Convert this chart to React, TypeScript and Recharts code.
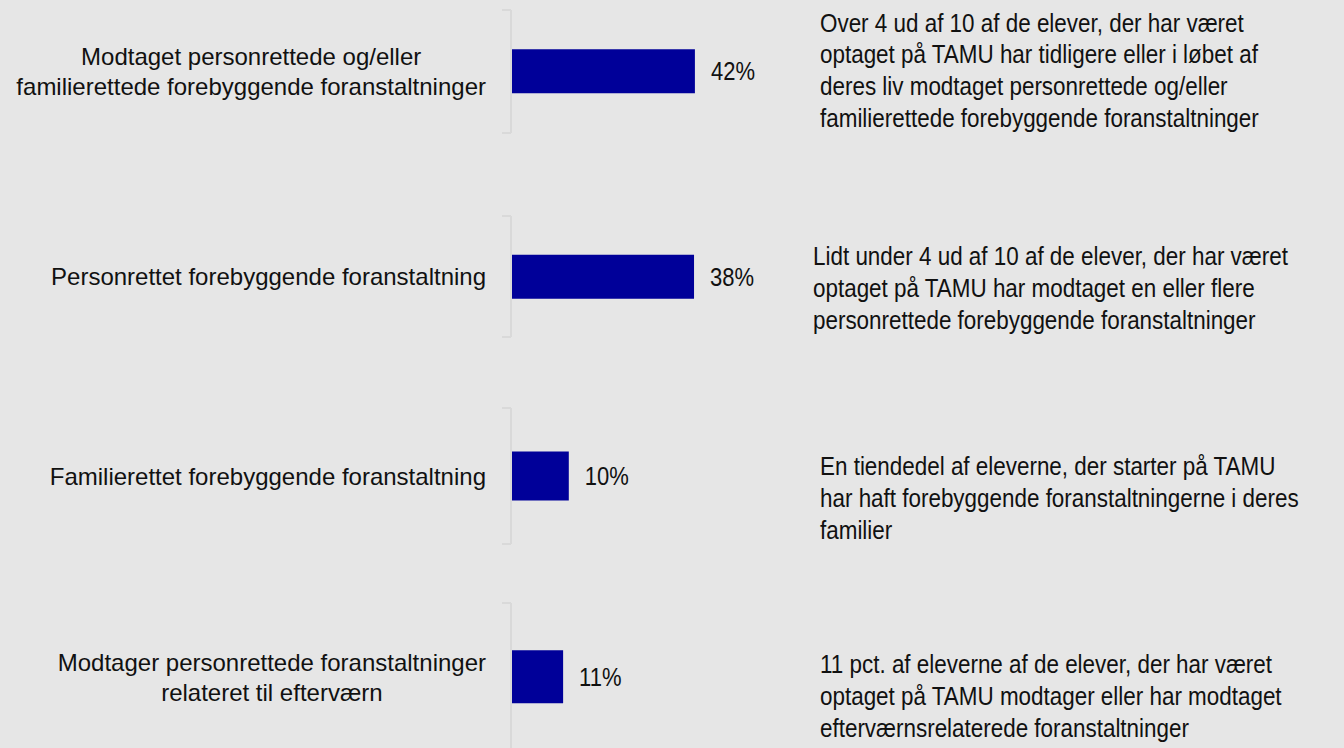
import { Bar, BarChart, LabelList, XAxis, YAxis } from "recharts";

const categories = [
  "Modtaget personrettede og/eller\nfamilierettede forebyggende foranstaltninger",
  "Personrettet forebyggende foranstaltning",
  "Familierettet forebyggende foranstaltning",
  "Modtager personrettede foranstaltninger\nrelateret til efterværn",
];
const shares = [42, 38, 10, 11];
// the original draws every panel with its own x scale
const scaleMax = [66, 60, 50, 61];
const notes = [
  "Over 4 ud af 10 af de elever, der har været\noptaget på TAMU har tidligere eller i løbet af\nderes liv modtaget personrettede og/eller\nfamilierettede forebyggende foranstaltninger",
  "Lidt under 4 ud af 10 af de elever, der har været\noptaget på TAMU har modtaget en eller flere\npersonrettede forebyggende foranstaltninger",
  "En tiendedel af eleverne, der starter på TAMU\nhar haft forebyggende foranstaltningerne i deres\nfamilier",
  "11 pct. af eleverne af de elever, der har været\noptaget på TAMU modtager eller har modtaget\nefterværnsrelaterede foranstaltninger",
];

const BG = "#e6e6e6";
const BAR = "#000099";
const AXIS = "#d9d9d9";
const INK = "#111111";
const FONT = "'Liberation Sans', Arial, sans-serif";
// the source font is a narrow grotesque, so text is squeezed a little
const SQUEEZE = 0.88;

const AXIS_X = 511;
const LABEL_RIGHT = 486;
const CHART_W = 800;
const PANELS = [
  { top: 10, h: 123 },
  { top: 216, h: 121 },
  { top: 408, h: 136 },
  { top: 603, h: 148 },
];
const NOTE_POS = [
  { x: 820, y: 31.5 },
  { x: 813, y: 265 },
  { x: 820, y: 475 },
  { x: 820, y: 673 },
];

let ctx: CanvasRenderingContext2D | null = null;
function textWidth(s: string, font: string) {
  if (!ctx) ctx = document.createElement("canvas").getContext("2d");
  if (!ctx) return s.length * 11;
  ctx.font = font;
  return ctx.measureText(s).width;
}

function CategoryTick({ y, payload, half }: any) {
  const lines = String(payload.value).split("\n");
  const maxW = Math.max(...lines.map((l) => textWidth(l, `24px ${FONT}`)));
  const cx = LABEL_RIGHT - maxW / 2;
  return (
    <g>
      <line x1={AXIS_X - 9} x2={AXIS_X} y1={y - half} y2={y - half} stroke={AXIS} strokeWidth={2} />
      <line x1={AXIS_X - 9} x2={AXIS_X} y1={y + half} y2={y + half} stroke={AXIS} strokeWidth={2} />
      <text textAnchor="middle" fontSize={24} fill={INK} fontFamily={FONT}>
        {lines.map((l, i) => (
          <tspan key={i} x={cx} y={y + (i - (lines.length - 1) / 2) * 30} dy="0.36em">
            {l}
          </tspan>
        ))}
      </text>
    </g>
  );
}

function ValueLabel({ x, y, width, height, value }: any) {
  const tx = Number(x) + Number(width) + 16;
  const ty = Number(y) + Number(height) / 2;
  return (
    <text
      transform={`translate(${tx},${ty}) scale(${SQUEEZE},1)`}
      dy="0.36em"
      fontSize={25}
      fill={INK}
      fontFamily={FONT}
    >
      {value}%
    </text>
  );
}

export default function App() {
  return (
    <div
      style={{
        position: "absolute",
        left: 0,
        top: 0,
        width: 1344,
        height: 748,
        background: BG,
        overflow: "hidden",
      }}
    >
      {PANELS.map((p, i) => (
        <div key={i} style={{ position: "absolute", left: 0, top: p.top - 2 }}>
          <BarChart
            width={CHART_W}
            height={p.h + 4}
            layout="vertical"
            data={[{ name: categories[i], value: shares[i] }]}
            margin={{ top: 2, right: 0, bottom: 2, left: 0 }}
            barCategoryGap="32%"
          >
            <XAxis type="number" domain={[0, scaleMax[i]]} hide />
            <YAxis
              type="category"
              dataKey="name"
              width={AXIS_X}
              interval={0}
              axisLine={{ stroke: AXIS, strokeWidth: 2 }}
              tickLine={false}
              tick={(props: any) => <CategoryTick {...props} half={p.h / 2} />}
            />
            <Bar dataKey="value" fill={BAR} isAnimationActive={false}>
              <LabelList dataKey="value" content={<ValueLabel />} />
            </Bar>
          </BarChart>
        </div>
      ))}
      <svg width={1344} height={748} style={{ position: "absolute", left: 0, top: 0, pointerEvents: "none" }}>
        {notes.map((n, i) => (
          <g key={i} transform={`translate(${NOTE_POS[i].x},${NOTE_POS[i].y}) scale(${SQUEEZE},1)`}>
            <text fontSize={25.5} fill={INK} fontFamily={FONT}>
              {n.split("\n").map((l, j) => (
                <tspan key={j} x={0} y={j * 32}>
                  {l}
                </tspan>
              ))}
            </text>
          </g>
        ))}
      </svg>
    </div>
  );
}
